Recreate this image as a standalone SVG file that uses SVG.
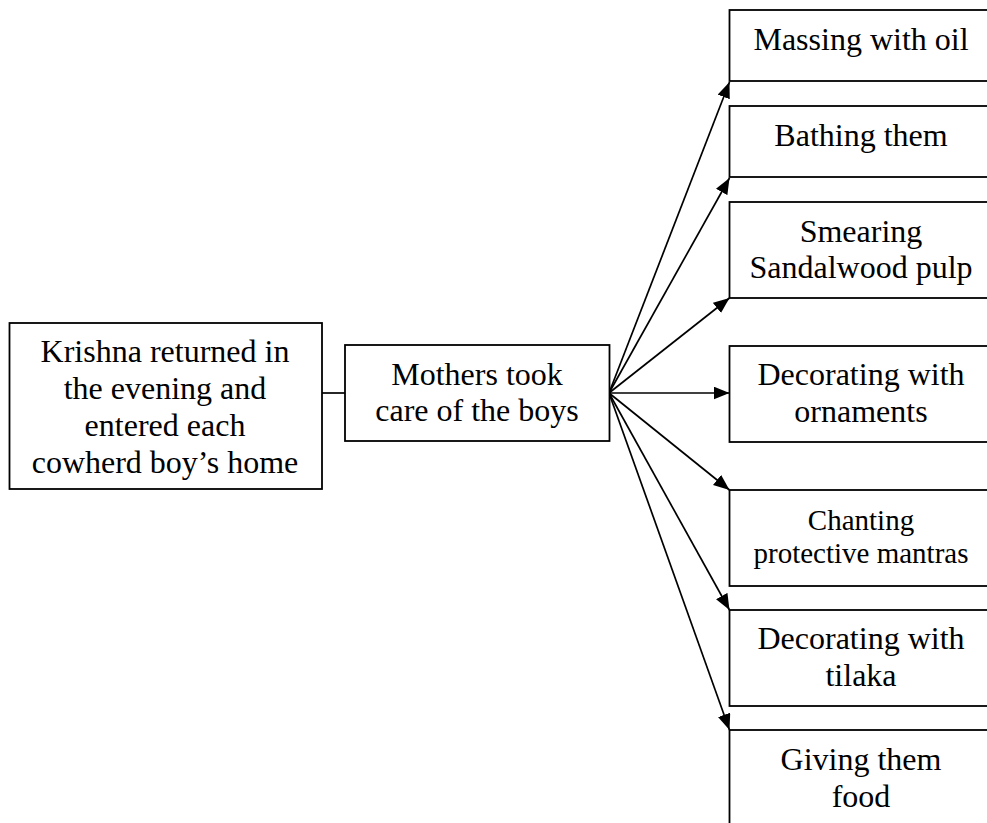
<svg xmlns="http://www.w3.org/2000/svg" width="987" height="823" viewBox="0 0 987 823">
  <style>
    .box { fill: #ffffff; stroke: #000000; stroke-width: 1.8; }
    .lbl { font-family: "Liberation Serif", "Times New Roman", serif; font-size: 32px; fill: #000000; text-anchor: middle; }
    .sm { font-size: 29px; }
    .edge { stroke: #000000; stroke-width: 1.7; fill: none; }
  </style>
  <defs>
    <marker id="arrow" markerUnits="userSpaceOnUse" markerWidth="18" markerHeight="14" refX="16" refY="6.5" orient="auto">
      <path d="M0,0 L16,6.5 L0,13 Z" fill="#000000"/>
    </marker>
  </defs>
  <rect width="987" height="823" fill="#ffffff"/>

  <g id="connectors">
    <line class="edge" x1="322" y1="393" x2="345" y2="393"/>
    <line class="edge" x1="609" y1="393" x2="729.5" y2="82" marker-end="url(#arrow)"/>
    <line class="edge" x1="609" y1="393" x2="729.5" y2="178" marker-end="url(#arrow)"/>
    <line class="edge" x1="609" y1="393" x2="729.5" y2="298" marker-end="url(#arrow)"/>
    <line class="edge" x1="609" y1="393" x2="729.5" y2="393" marker-end="url(#arrow)"/>
    <line class="edge" x1="609" y1="393" x2="729.5" y2="490" marker-end="url(#arrow)"/>
    <line class="edge" x1="609" y1="393" x2="729.5" y2="610" marker-end="url(#arrow)"/>
    <line class="edge" x1="609" y1="393" x2="729.5" y2="730" marker-end="url(#arrow)"/>
  </g>

  <g id="krishna">
    <rect class="box" x="9.5" y="323" width="312.5" height="166"/>
    <text class="lbl" x="165" y="362">Krishna returned in</text>
    <text class="lbl" x="165" y="399">the evening and</text>
    <text class="lbl" x="165" y="436">entered each</text>
    <text class="lbl" x="165" y="473">cowherd boy’s home</text>
  </g>

  <g id="mothers">
    <rect class="box" x="345" y="345" width="264.5" height="96"/>
    <text class="lbl" x="477" y="385">Mothers took</text>
    <text class="lbl" x="477" y="421">care of the boys</text>
  </g>

  <g id="oil">
    <rect class="box" x="729.5" y="10" width="263" height="71"/>
    <text class="lbl" x="861" y="50">Massing with oil</text>
  </g>

  <g id="bathing">
    <rect class="box" x="729.5" y="106" width="263" height="71"/>
    <text class="lbl" x="861" y="146">Bathing them</text>
  </g>

  <g id="sandalwood">
    <rect class="box" x="729.5" y="202" width="263" height="96"/>
    <text class="lbl" x="861" y="242">Smearing</text>
    <text class="lbl" x="861" y="278">Sandalwood pulp</text>
  </g>

  <g id="ornaments">
    <rect class="box" x="729.5" y="346" width="263" height="96"/>
    <text class="lbl" x="861" y="385">Decorating with</text>
    <text class="lbl" x="861" y="422">ornaments</text>
  </g>

  <g id="mantras">
    <rect class="box" x="729.5" y="490" width="263" height="96"/>
    <text class="lbl sm" x="861" y="530">Chanting</text>
    <text class="lbl sm" x="861" y="563">protective mantras</text>
  </g>

  <g id="tilaka">
    <rect class="box" x="729.5" y="610" width="263" height="96"/>
    <text class="lbl" x="861" y="649">Decorating with</text>
    <text class="lbl" x="861" y="686">tilaka</text>
  </g>

  <g id="food">
    <rect class="box" x="729.5" y="730" width="263" height="120"/>
    <text class="lbl" x="861" y="770">Giving them</text>
    <text class="lbl" x="861" y="807">food</text>
  </g>
</svg>
